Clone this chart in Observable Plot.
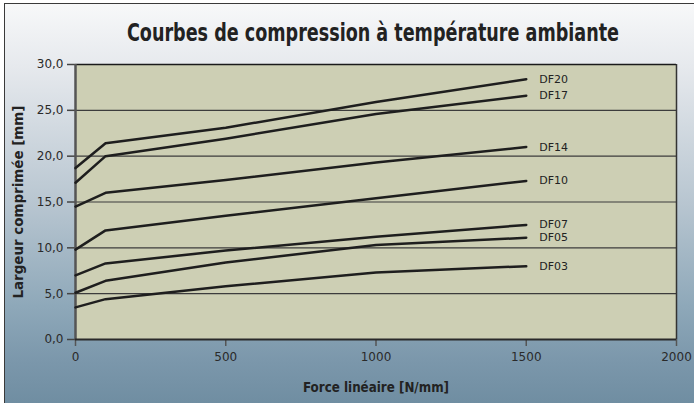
<!DOCTYPE html>
<html>
<head>
<meta charset="utf-8">
<script src="https://cdn.jsdelivr.net/npm/d3@7"></script>
<script src="https://cdn.jsdelivr.net/npm/@observablehq/plot@0.6"></script>
<style>
  html, body { margin: 0; padding: 0; background: #ffffff; }
  body { width: 694px; height: 403px; overflow: hidden; position: relative; }
  #bg {
    position: absolute; left: 4px; top: 3px; width: 720px; height: 420px;
    border-left: 1px solid #3a3a3a; border-top: 1px solid #3a3a3a;
    background: linear-gradient(to bottom, #f7f8f9 0%, #e6e9ed 15%, #b7c5d0 48%, #8ea8b9 72%, #7b97ab 85%, #6a899d 100%);
  }
  #title {
    position: absolute; left: 26px; top: 18px; width: 694px; height: 30px;
    display: flex; justify-content: center; align-items: center;
  }
  #title span {
    display: inline-block; font-family: "Liberation Sans Narrow", "DejaVu Sans Condensed", sans-serif;
    font-weight: bold; font-size: 25px; line-height: 30px; color: #222; transform-origin: center center; white-space: nowrap;
  }
  #plot { position: absolute; left: 0; top: 55px; }
</style>
</head>
<body>
<div id="bg"></div>
<div id="title"><span></span></div>
<div id="plot"></div>
<script>
// ---- data ----
const force = [0, 100, 500, 1000, 1500];
const seriesNames = ["DF20", "DF17", "DF14", "DF10", "DF07", "DF05", "DF03"];
const DF20 = [18.7, 21.4, 23.1, 25.9, 28.4];
const DF17 = [17.1, 20.0, 21.9, 24.6, 26.6];
const DF14 = [14.5, 16.0, 17.4, 19.3, 21.0];
const DF10 = [9.8, 11.9, 13.5, 15.4, 17.3];
const DF07 = [7.0, 8.3, 9.7, 11.2, 12.5];
const DF05 = [5.1, 6.4, 8.4, 10.3, 11.1];
const DF03 = [3.5, 4.4, 5.8, 7.3, 8.0];
const yTicks = [0, 5, 10, 15, 20, 25, 30];
const xTicks = [0, 500, 1000, 1500, 2000];
const titleText = "Courbes de compression à température ambiante";
const yLabel = "Largeur comprimée [mm]";
const xLabel = "Force linéaire [N/mm]";

const seriesValues = { DF20, DF17, DF14, DF10, DF07, DF05, DF03 };
const rows = [];
for (const s of seriesNames) {
  seriesValues[s].forEach((v, i) => rows.push({ series: s, force: force[i], value: v }));
}
const lastRows = seriesNames.map(s => ({ series: s, force: force[force.length - 1], value: seriesValues[s][force.length - 1] }));

const condensed = "'Liberation Sans Narrow', 'DejaVu Sans Condensed', sans-serif";

const chart = Plot.plot({
  width: 694,
  height: 348,
  marginLeft: 75,
  marginRight: 18,
  marginTop: 9,
  marginBottom: 64,
  style: { background: "transparent", fontFamily: "DejaVu Sans, sans-serif", fontSize: "12px", color: "#2a2a2a", overflow: "visible" },
  x: { domain: [0, 2000] },
  y: { domain: [0, 30] },
  marks: [
    Plot.frame({ fill: "#cdcfb4", stroke: null }),
    Plot.ruleY([5, 10, 15, 20, 25], { stroke: "#3c3c3c", strokeWidth: 1.2 }),
    Plot.ruleY([30], { stroke: "#1a1a1a", strokeWidth: 1.5 }),
    Plot.ruleX([2000], { stroke: "#333333", strokeWidth: 1.5 }),
    Plot.axisY({ ticks: yTicks, tickSize: 8, tickPadding: 4, tickFormat: d => d.toFixed(1).replace(".", ","), label: null, stroke: "#444", strokeWidth: 1.5, fill: "#2a2a2a", fontSize: 12 }),
    Plot.axisX({ ticks: xTicks, tickSize: 7, tickPadding: 6, tickFormat: d => String(d), label: null, stroke: "#555", strokeWidth: 1.5, fill: "#2a2a2a", fontSize: 12 }),
    Plot.ruleX([0], { stroke: "#555555", strokeWidth: 2.5 }),
    Plot.ruleY([0], { stroke: "#2a2a2a", strokeWidth: 2 }),
    Plot.line(rows, { x: "force", y: "value", z: "series", stroke: "#1e1e1e", strokeWidth: 2.5 }),
    Plot.text(lastRows, { x: "force", y: "value", text: "series", dx: 13, textAnchor: "start", fontSize: 11, fill: "#222" }),
    Plot.text([yLabel], { text: d => d, frameAnchor: "left", textAnchor: "middle", dx: -57, rotate: -90, fontWeight: "bold", fontSize: 14, fontFamily: condensed, fill: "#222" }),
    Plot.text([xLabel], { text: d => d, frameAnchor: "bottom", textAnchor: "middle", dy: 48, lineAnchor: "middle", fontWeight: "bold", fontSize: 14, fontFamily: condensed, fill: "#222" })
  ]
});
document.getElementById("plot").appendChild(chart);

// fit condensed labels to reference widths
chart.querySelectorAll("text").forEach(t => {
  if (t.textContent === yLabel) { t.setAttribute("textLength", 193); t.setAttribute("lengthAdjust", "spacingAndGlyphs"); }
  if (t.textContent === xLabel) { t.setAttribute("textLength", 146); t.setAttribute("lengthAdjust", "spacingAndGlyphs"); }
});
const span = document.querySelector("#title span");
span.textContent = titleText;
const w = span.getBoundingClientRect().width;
span.style.transform = `scaleX(${492 / w})`;
</script>
</body>
</html>
